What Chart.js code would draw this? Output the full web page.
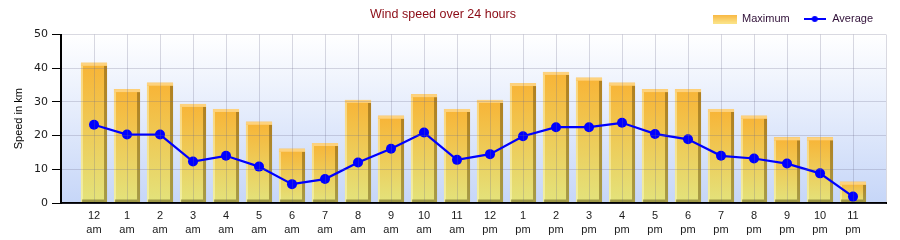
<!DOCTYPE html>
<html><head><meta charset="utf-8">
<script src="https://cdn.jsdelivr.net/npm/chart.js@4/dist/chart.umd.min.js"></script>
<style>html,body{margin:0;padding:0;background:#fff;}</style>
</head><body>
<canvas id="c" width="900" height="240"></canvas>
<script>
// ---- data ----
const hourLabels = ['12','1','2','3','4','5','6','7','8','9','10','11','12','1','2','3','4','5','6','7','8','9','10','11'];
const periodLabels = ['am','am','am','am','am','am','am','am','am','am','am','am','pm','pm','pm','pm','pm','pm','pm','pm','pm','pm','pm','pm'];
const maximumSpeed = [41.6,33.8,35.7,29.4,27.9,24.1,16.1,17.8,30.6,25.9,32.3,27.9,30.6,35.6,38.9,37.2,35.7,33.8,33.8,27.9,25.9,19.5,19.5,6.3];
const averageSpeed = [23.2,20.3,20.3,12.3,14.0,10.8,5.6,7.1,12.0,16.1,20.9,12.8,14.5,19.8,22.5,22.5,23.8,20.5,18.9,14.0,13.2,11.7,8.8,1.9];
const yMin = 0, yMax = 50, yStep = 10;
const chartTitle = 'Wind speed over 24 hours';
const yTitle = 'Speed in km';
const seriesNames = ['Maximum', 'Average'];

// padded category axis: one empty slot each side
const labels = [''].concat(hourLabels.map((h, i) => [h, periodLabels[i]]), ['']);
const pad = arr => [null].concat(arr, [null]);

const ORANGE = '#F8B436', YELLOW = '#E3E37C';
const gridColor = 'rgba(110,110,140,0.26)';

// legend symbols
function makeSwatch() {
  const c = document.createElement('canvas'); c.width = 24; c.height = 9;
  const g = c.getContext('2d');
  const gr = g.createLinearGradient(0, 0, 0, 9);
  gr.addColorStop(0, '#F9B640'); gr.addColorStop(1, '#FBE58A');
  g.fillStyle = gr; g.fillRect(0, 0, 24, 9);
  return c;
}
function makeLineSym() {
  const c = document.createElement('canvas'); c.width = 22; c.height = 8;
  const g = c.getContext('2d');
  g.strokeStyle = '#0000FF'; g.lineWidth = 2;
  g.beginPath(); g.moveTo(0, 4); g.lineTo(22, 4); g.stroke();
  g.fillStyle = '#0000FF'; g.beginPath(); g.arc(11, 4, 3, 0, Math.PI * 2); g.fill();
  return c;
}
const swatch = makeSwatch(), lineSym = makeLineSym();

const bgPlugin = {
  id: 'plotBg',
  beforeDraw(chart) {
    const {ctx, chartArea: a} = chart;
    ctx.save();
    ctx.fillStyle = '#fff'; ctx.fillRect(0, 0, chart.width, chart.height);
    const g = ctx.createLinearGradient(0, a.top, 0, a.bottom);
    g.addColorStop(0, '#FFFFFF'); g.addColorStop(1, '#C6D6F8');
    ctx.fillStyle = g; ctx.fillRect(a.left, a.top, a.right - a.left, a.bottom - a.top);
    ctx.restore();
  }
};

const bar3d = {
  id: 'bar3d',
  afterDatasetDraw(chart, args) {
    if (args.index !== 0) return;
    const ctx = chart.ctx, d = 3;
    ctx.save();
    args.meta.data.forEach(el => {
      if (el.skip || el.y == null || isNaN(el.y)) return;
      const p = el.getProps(['x', 'y', 'base', 'width'], true);
      const l = p.x - p.width / 2, r = p.x + p.width / 2, t = p.y, b = p.base;
      if (b - t < 1) return;
      ctx.fillStyle = 'rgba(255,255,215,0.45)';
      ctx.fillRect(l, t + d, 2, b - t - d);
      ctx.fillStyle = 'rgba(80,58,0,0.42)';
      ctx.fillRect(r - d, t + d, d, b - t - d);
      ctx.fillStyle = 'rgba(90,80,20,0.5)';
      ctx.fillRect(l + 1, b - 3, r - l - 1 - d, 3);
      ctx.fillStyle = '#FDD27E';
      ctx.fillRect(l, t, r - l, d);
    });
    ctx.restore();
  }
};

new Chart(document.getElementById('c'), {
  type: 'bar',
  data: {
    labels: labels,
    datasets: [
      {
        type: 'bar', label: seriesNames[0], data: pad(maximumSpeed), order: 1,
        barPercentage: 0.79, categoryPercentage: 1, borderWidth: 0,
        backgroundColor(ctx) {
          const chart = ctx.chart, ys = chart.scales && chart.scales.y;
          if (!chart.chartArea || !ys || ctx.raw == null) return ORANGE;
          const top = ys.getPixelForValue(ctx.raw), bot = ys.getPixelForValue(0);
          if (!isFinite(top) || !isFinite(bot) || bot - top < 1) return ORANGE;
          const g = chart.ctx.createLinearGradient(0, top, 0, bot);
          g.addColorStop(0, ORANGE); g.addColorStop(1, YELLOW);
          return g;
        }
      },
      {
        type: 'line', label: seriesNames[1], data: pad(averageSpeed), order: 0,
        borderColor: '#0000FF', backgroundColor: '#0000FF', borderWidth: 2.2,
        pointRadius: 5, pointHoverRadius: 5, pointBackgroundColor: '#0000FF', pointBorderWidth: 0,
        tension: 0, spanGaps: false
      }
    ]
  },
  options: {
    responsive: false, animation: false, devicePixelRatio: 1,
    layout: {padding: {left: 0, right: 14, top: 0, bottom: 0}},
    plugins: {
      tooltip: {enabled: false},
      title: {
        display: true, text: chartTitle, color: '#8B0A14',
        font: {family: 'Liberation Sans', size: 12.5, weight: 'normal'},
        padding: {top: 7.5, bottom: -22}
      },
      legend: {
        display: true, position: 'top', align: 'end',
        labels: {
          usePointStyle: true, pointStyleWidth: 24, boxHeight: 10, padding: 13,
          color: '#301038', font: {family: 'Liberation Sans', size: 11},
          generateLabels() {
            return [
              {text: seriesNames[0], pointStyle: swatch, fillStyle: 'rgba(0,0,0,0)', strokeStyle: 'rgba(0,0,0,0)', lineWidth: 0, hidden: false, datasetIndex: 0, fontColor: '#301038'},
              {text: seriesNames[1], pointStyle: lineSym, fillStyle: 'rgba(0,0,0,0)', strokeStyle: 'rgba(0,0,0,0)', lineWidth: 0, hidden: false, datasetIndex: 1, fontColor: '#301038'}
            ];
          }
        }
      }
    },
    scales: {
      x: {
        type: 'category', offset: false,
        grid: {offset: false, color: gridColor, drawTicks: false, z: 1},
        border: {color: '#000', width: 2, z: 1},
        ticks: {autoSkip: false, maxRotation: 0, padding: 6, color: '#1a1a1a',
                font: {family: 'Liberation Sans', size: 11, lineHeight: 1.27}},
        afterFit(s) { s.height = 37; }
      },
      y: {
        min: yMin, max: yMax,
        ticks: {stepSize: yStep, padding: 4, color: '#1a1a1a', font: {family: 'DejaVu Sans', size: 11}},
        grid: {color: gridColor, tickColor: '#000', tickLength: 9, z: 1},
        border: {color: '#000', width: 2, z: 1},
        title: {display: true, text: yTitle, color: '#000', font: {family: 'Liberation Sans', size: 11}, padding: {top: 12, bottom: 0}},
        afterFit(s) { s.width = 61; }
      }
    }
  },
  plugins: [bgPlugin, bar3d]
});
</script>
</body></html>
